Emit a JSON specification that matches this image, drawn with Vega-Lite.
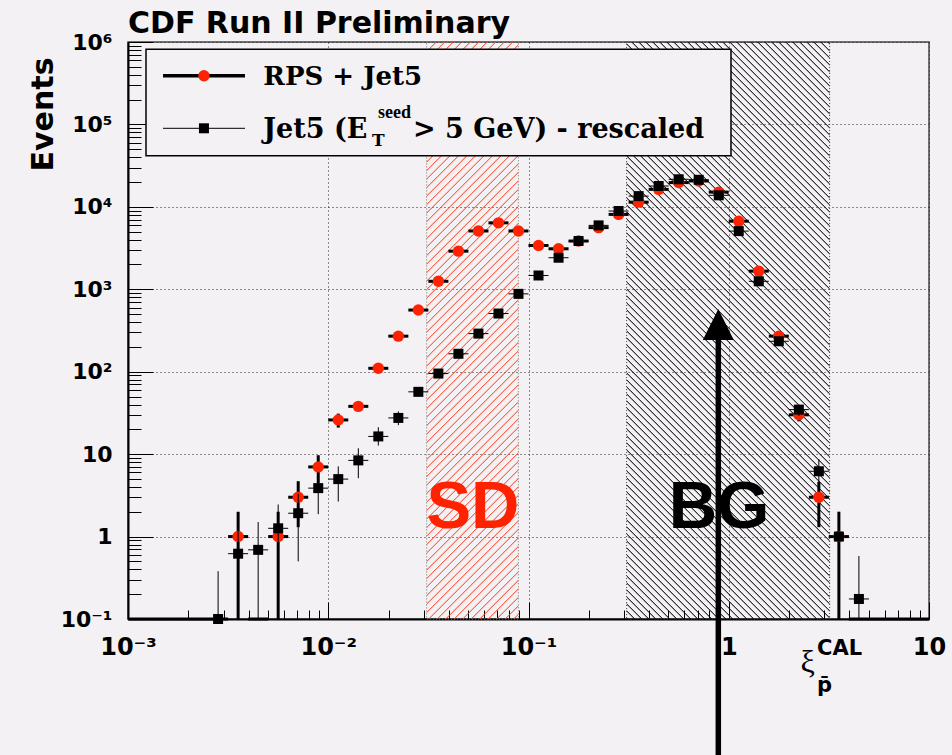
{
"$schema":"https://vega.github.io/schema/vega-lite/v6.json",
"width":801,"height":577,
"autosize":"none",
"padding":{"left":128,"top":42,"right":23,"bottom":136},
"background":"#f3f1f4",
"config":{"view":{"stroke":"#444","strokeWidth":1.5}},
"datasets":{"hist":[
{"s":"R","x":0.001122,"lo":0.001,"hi":0.001259,"y":0},
{"s":"R","x":0.001413,"lo":0.001259,"hi":0.001585,"y":0},
{"s":"R","x":0.001778,"lo":0.001585,"hi":0.001995,"y":0},
{"s":"R","x":0.002239,"lo":0.001995,"hi":0.002512,"y":0},
{"s":"R","x":0.002818,"lo":0.002512,"hi":0.003162,"y":0},
{"s":"R","x":0.003548,"lo":0.003162,"hi":0.003981,"y":1,"ylo":0.1,"yhi":2.0},
{"s":"R","x":0.004467,"lo":0.003981,"hi":0.005012,"y":0},
{"s":"R","x":0.005623,"lo":0.005012,"hi":0.00631,"y":1,"ylo":0.1,"yhi":2.0},
{"s":"R","x":0.007079,"lo":0.00631,"hi":0.007943,"y":3,"ylo":1.3,"yhi":4.7},
{"s":"R","x":0.008913,"lo":0.007943,"hi":0.01,"y":7,"ylo":4.4,"yhi":9.7},
{"s":"R","x":0.01122,"lo":0.01,"hi":0.01259,"y":26,"ylo":21,"yhi":31},
{"s":"R","x":0.01413,"lo":0.01259,"hi":0.01585,"y":38},
{"s":"R","x":0.01778,"lo":0.01585,"hi":0.01995,"y":110},
{"s":"R","x":0.02239,"lo":0.01995,"hi":0.02512,"y":270},
{"s":"R","x":0.02818,"lo":0.02512,"hi":0.03162,"y":560},
{"s":"R","x":0.03548,"lo":0.03162,"hi":0.03981,"y":1250},
{"s":"R","x":0.04467,"lo":0.03981,"hi":0.05012,"y":2900},
{"s":"R","x":0.05623,"lo":0.05012,"hi":0.0631,"y":5100},
{"s":"R","x":0.07079,"lo":0.0631,"hi":0.07943,"y":6400},
{"s":"R","x":0.08913,"lo":0.07943,"hi":0.1,"y":5100},
{"s":"R","x":0.1122,"lo":0.1,"hi":0.1259,"y":3400},
{"s":"R","x":0.1413,"lo":0.1259,"hi":0.1585,"y":3100},
{"s":"R","x":0.1778,"lo":0.1585,"hi":0.1995,"y":3850},
{"s":"R","x":0.2239,"lo":0.1995,"hi":0.2512,"y":5600},
{"s":"R","x":0.2818,"lo":0.2512,"hi":0.3162,"y":8100},
{"s":"R","x":0.3548,"lo":0.3162,"hi":0.3981,"y":11400},
{"s":"R","x":0.4467,"lo":0.3981,"hi":0.5012,"y":16300},
{"s":"R","x":0.5623,"lo":0.5012,"hi":0.631,"y":19700},
{"s":"R","x":0.7079,"lo":0.631,"hi":0.7943,"y":20600},
{"s":"R","x":0.8913,"lo":0.7943,"hi":1,"y":15100},
{"s":"R","x":1.122,"lo":1,"hi":1.259,"y":6700},
{"s":"R","x":1.413,"lo":1.259,"hi":1.585,"y":1660},
{"s":"R","x":1.778,"lo":1.585,"hi":1.995,"y":270},
{"s":"R","x":2.239,"lo":1.995,"hi":2.512,"y":30,"ylo":25,"yhi":35.5},
{"s":"R","x":2.818,"lo":2.512,"hi":3.162,"y":3,"ylo":1.3,"yhi":4.6},
{"s":"R","x":3.548,"lo":3.162,"hi":3.981,"y":1,"ylo":0.1,"yhi":2.0},
{"s":"R","x":4.467,"lo":3.981,"hi":5.012,"y":0},
{"s":"R","x":5.623,"lo":5.012,"hi":6.31,"y":0},
{"s":"R","x":7.079,"lo":6.31,"hi":7.943,"y":0},
{"s":"R","x":8.913,"lo":7.943,"hi":10,"y":0},
{"s":"B","x":0.001122,"lo":0.001,"hi":0.001259,"y":0},
{"s":"B","x":0.001413,"lo":0.001259,"hi":0.001585,"y":0},
{"s":"B","x":0.001778,"lo":0.001585,"hi":0.001995,"y":0},
{"s":"B","x":0.002239,"lo":0.001995,"hi":0.002512,"y":0},
{"s":"B","x":0.002818,"lo":0.002512,"hi":0.003162,"y":0.1,"ylo":0.1,"yhi":0.38},
{"s":"B","x":0.003548,"lo":0.003162,"hi":0.003981,"y":0.62,"ylo":0.1,"yhi":1.25},
{"s":"B","x":0.004467,"lo":0.003981,"hi":0.005012,"y":0.69,"ylo":0.1,"yhi":1.5},
{"s":"B","x":0.005623,"lo":0.005012,"hi":0.00631,"y":1.26,"ylo":0.1,"yhi":2.45},
{"s":"B","x":0.007079,"lo":0.00631,"hi":0.007943,"y":1.92,"ylo":0.5,"yhi":3.3},
{"s":"B","x":0.008913,"lo":0.007943,"hi":0.01,"y":3.87,"ylo":1.87,"yhi":5.8},
{"s":"B","x":0.01122,"lo":0.01,"hi":0.01259,"y":4.98,"ylo":2.66,"yhi":7.1},
{"s":"B","x":0.01413,"lo":0.01259,"hi":0.01585,"y":8.4,"ylo":5.1,"yhi":11.8},
{"s":"B","x":0.01778,"lo":0.01585,"hi":0.01995,"y":16.4,"ylo":12.7,"yhi":21.2},
{"s":"B","x":0.02239,"lo":0.01995,"hi":0.02512,"y":27.5,"ylo":22.5,"yhi":33},
{"s":"B","x":0.02818,"lo":0.02512,"hi":0.03162,"y":57,"ylo":50,"yhi":64},
{"s":"B","x":0.03548,"lo":0.03162,"hi":0.03981,"y":95},
{"s":"B","x":0.04467,"lo":0.03981,"hi":0.05012,"y":165},
{"s":"B","x":0.05623,"lo":0.05012,"hi":0.0631,"y":290},
{"s":"B","x":0.07079,"lo":0.0631,"hi":0.07943,"y":508},
{"s":"B","x":0.08913,"lo":0.07943,"hi":0.1,"y":880},
{"s":"B","x":0.1122,"lo":0.1,"hi":0.1259,"y":1470},
{"s":"B","x":0.1413,"lo":0.1259,"hi":0.1585,"y":2415},
{"s":"B","x":0.1778,"lo":0.1585,"hi":0.1995,"y":3850},
{"s":"B","x":0.2239,"lo":0.1995,"hi":0.2512,"y":5960},
{"s":"B","x":0.2818,"lo":0.2512,"hi":0.3162,"y":8900},
{"s":"B","x":0.3548,"lo":0.3162,"hi":0.3981,"y":13500},
{"s":"B","x":0.4467,"lo":0.3981,"hi":0.5012,"y":17900},
{"s":"B","x":0.5623,"lo":0.5012,"hi":0.631,"y":21600},
{"s":"B","x":0.7079,"lo":0.631,"hi":0.7943,"y":21300},
{"s":"B","x":0.8913,"lo":0.7943,"hi":1,"y":13800},
{"s":"B","x":1.122,"lo":1,"hi":1.259,"y":5080},
{"s":"B","x":1.413,"lo":1.259,"hi":1.585,"y":1250},
{"s":"B","x":1.778,"lo":1.585,"hi":1.995,"y":234},
{"s":"B","x":2.239,"lo":1.995,"hi":2.512,"y":34.7,"ylo":29,"yhi":40},
{"s":"B","x":2.818,"lo":2.512,"hi":3.162,"y":6.2,"ylo":3.8,"yhi":8.7},
{"s":"B","x":3.548,"lo":3.162,"hi":3.981,"y":1,"ylo":0.1,"yhi":2.0},
{"s":"B","x":4.467,"lo":3.981,"hi":5.012,"y":0.175,"ylo":0.1,"yhi":0.58},
{"s":"B","x":5.623,"lo":5.012,"hi":6.31,"y":0},
{"s":"B","x":7.079,"lo":6.31,"hi":7.943,"y":0},
{"s":"B","x":8.913,"lo":7.943,"hi":10,"y":0}
]},
"data":{"name":"hist"},
"layer":[
{"data":{"values":[{}]},"mark":{"type":"rect","stroke":"#777","strokeWidth":1,"strokeDash":[1,2],"fill":{"gradient":"linear","x1":0,"y1":0,"x2":0.2284,"y2":1.4368,"stops":[
{"offset":0,"color":"#f420"},{"offset":0.0013,"color":"#f42"},{"offset":0.0026,"color":"#f420"},
{"offset":0.01,"color":"#f420"},{"offset":0.0113,"color":"#f42"},{"offset":0.0126,"color":"#f420"},
{"offset":0.02,"color":"#f420"},{"offset":0.0213,"color":"#f42"},{"offset":0.0226,"color":"#f420"},
{"offset":0.03,"color":"#f420"},{"offset":0.0313,"color":"#f42"},{"offset":0.0326,"color":"#f420"},
{"offset":0.04,"color":"#f420"},{"offset":0.0413,"color":"#f42"},{"offset":0.0426,"color":"#f420"},
{"offset":0.05,"color":"#f420"},{"offset":0.0513,"color":"#f42"},{"offset":0.0526,"color":"#f420"},
{"offset":0.06,"color":"#f420"},{"offset":0.0613,"color":"#f42"},{"offset":0.0626,"color":"#f420"},
{"offset":0.07,"color":"#f420"},{"offset":0.0713,"color":"#f42"},{"offset":0.0726,"color":"#f420"},
{"offset":0.08,"color":"#f420"},{"offset":0.0813,"color":"#f42"},{"offset":0.0826,"color":"#f420"},
{"offset":0.09,"color":"#f420"},{"offset":0.0913,"color":"#f42"},{"offset":0.0926,"color":"#f420"},
{"offset":0.1,"color":"#f420"},{"offset":0.1013,"color":"#f42"},{"offset":0.1026,"color":"#f420"},
{"offset":0.11,"color":"#f420"},{"offset":0.1113,"color":"#f42"},{"offset":0.1126,"color":"#f420"},
{"offset":0.12,"color":"#f420"},{"offset":0.1213,"color":"#f42"},{"offset":0.1226,"color":"#f420"},
{"offset":0.13,"color":"#f420"},{"offset":0.1313,"color":"#f42"},{"offset":0.1326,"color":"#f420"},
{"offset":0.14,"color":"#f420"},{"offset":0.1413,"color":"#f42"},{"offset":0.1426,"color":"#f420"},
{"offset":0.15,"color":"#f420"},{"offset":0.1513,"color":"#f42"},{"offset":0.1526,"color":"#f420"},
{"offset":0.16,"color":"#f420"},{"offset":0.1613,"color":"#f42"},{"offset":0.1626,"color":"#f420"},
{"offset":0.17,"color":"#f420"},{"offset":0.1713,"color":"#f42"},{"offset":0.1726,"color":"#f420"},
{"offset":0.18,"color":"#f420"},{"offset":0.1813,"color":"#f42"},{"offset":0.1826,"color":"#f420"},
{"offset":0.19,"color":"#f420"},{"offset":0.1913,"color":"#f42"},{"offset":0.1926,"color":"#f420"},
{"offset":0.2,"color":"#f420"},{"offset":0.2013,"color":"#f42"},{"offset":0.2026,"color":"#f420"},
{"offset":0.21,"color":"#f420"},{"offset":0.2113,"color":"#f42"},{"offset":0.2126,"color":"#f420"},
{"offset":0.22,"color":"#f420"},{"offset":0.2213,"color":"#f42"},{"offset":0.2226,"color":"#f420"},
{"offset":0.23,"color":"#f420"},{"offset":0.2313,"color":"#f42"},{"offset":0.2326,"color":"#f420"},
{"offset":0.24,"color":"#f420"},{"offset":0.2413,"color":"#f42"},{"offset":0.2426,"color":"#f420"},
{"offset":0.25,"color":"#f420"},{"offset":0.2513,"color":"#f42"},{"offset":0.2526,"color":"#f420"},
{"offset":0.26,"color":"#f420"},{"offset":0.2613,"color":"#f42"},{"offset":0.2626,"color":"#f420"},
{"offset":0.27,"color":"#f420"},{"offset":0.2713,"color":"#f42"},{"offset":0.2726,"color":"#f420"},
{"offset":0.28,"color":"#f420"},{"offset":0.2813,"color":"#f42"},{"offset":0.2826,"color":"#f420"},
{"offset":0.29,"color":"#f420"},{"offset":0.2913,"color":"#f42"},{"offset":0.2926,"color":"#f420"},
{"offset":0.3,"color":"#f420"},{"offset":0.3013,"color":"#f42"},{"offset":0.3026,"color":"#f420"},
{"offset":0.31,"color":"#f420"},{"offset":0.3113,"color":"#f42"},{"offset":0.3126,"color":"#f420"},
{"offset":0.32,"color":"#f420"},{"offset":0.3213,"color":"#f42"},{"offset":0.3226,"color":"#f420"},
{"offset":0.33,"color":"#f420"},{"offset":0.3313,"color":"#f42"},{"offset":0.3326,"color":"#f420"},
{"offset":0.34,"color":"#f420"},{"offset":0.3413,"color":"#f42"},{"offset":0.3426,"color":"#f420"},
{"offset":0.35,"color":"#f420"},{"offset":0.3513,"color":"#f42"},{"offset":0.3526,"color":"#f420"},
{"offset":0.36,"color":"#f420"},{"offset":0.3613,"color":"#f42"},{"offset":0.3626,"color":"#f420"},
{"offset":0.37,"color":"#f420"},{"offset":0.3713,"color":"#f42"},{"offset":0.3726,"color":"#f420"},
{"offset":0.38,"color":"#f420"},{"offset":0.3813,"color":"#f42"},{"offset":0.3826,"color":"#f420"},
{"offset":0.39,"color":"#f420"},{"offset":0.3913,"color":"#f42"},{"offset":0.3926,"color":"#f420"},
{"offset":0.4,"color":"#f420"},{"offset":0.4013,"color":"#f42"},{"offset":0.4026,"color":"#f420"},
{"offset":0.41,"color":"#f420"},{"offset":0.4113,"color":"#f42"},{"offset":0.4126,"color":"#f420"},
{"offset":0.42,"color":"#f420"},{"offset":0.4213,"color":"#f42"},{"offset":0.4226,"color":"#f420"},
{"offset":0.43,"color":"#f420"},{"offset":0.4313,"color":"#f42"},{"offset":0.4326,"color":"#f420"},
{"offset":0.44,"color":"#f420"},{"offset":0.4413,"color":"#f42"},{"offset":0.4426,"color":"#f420"},
{"offset":0.45,"color":"#f420"},{"offset":0.4513,"color":"#f42"},{"offset":0.4526,"color":"#f420"},
{"offset":0.46,"color":"#f420"},{"offset":0.4613,"color":"#f42"},{"offset":0.4626,"color":"#f420"},
{"offset":0.47,"color":"#f420"},{"offset":0.4713,"color":"#f42"},{"offset":0.4726,"color":"#f420"},
{"offset":0.48,"color":"#f420"},{"offset":0.4813,"color":"#f42"},{"offset":0.4826,"color":"#f420"},
{"offset":0.49,"color":"#f420"},{"offset":0.4913,"color":"#f42"},{"offset":0.4926,"color":"#f420"},
{"offset":0.5,"color":"#f420"},{"offset":0.5013,"color":"#f42"},{"offset":0.5026,"color":"#f420"},
{"offset":0.51,"color":"#f420"},{"offset":0.5113,"color":"#f42"},{"offset":0.5126,"color":"#f420"},
{"offset":0.52,"color":"#f420"},{"offset":0.5213,"color":"#f42"},{"offset":0.5226,"color":"#f420"},
{"offset":0.53,"color":"#f420"},{"offset":0.5313,"color":"#f42"},{"offset":0.5326,"color":"#f420"},
{"offset":0.54,"color":"#f420"},{"offset":0.5413,"color":"#f42"},{"offset":0.5426,"color":"#f420"},
{"offset":0.55,"color":"#f420"},{"offset":0.5513,"color":"#f42"},{"offset":0.5526,"color":"#f420"},
{"offset":0.56,"color":"#f420"},{"offset":0.5613,"color":"#f42"},{"offset":0.5626,"color":"#f420"},
{"offset":0.57,"color":"#f420"},{"offset":0.5713,"color":"#f42"},{"offset":0.5726,"color":"#f420"},
{"offset":0.58,"color":"#f420"},{"offset":0.5813,"color":"#f42"},{"offset":0.5826,"color":"#f420"},
{"offset":0.59,"color":"#f420"},{"offset":0.5913,"color":"#f42"},{"offset":0.5926,"color":"#f420"},
{"offset":0.6,"color":"#f420"},{"offset":0.6013,"color":"#f42"},{"offset":0.6026,"color":"#f420"},
{"offset":0.61,"color":"#f420"},{"offset":0.6113,"color":"#f42"},{"offset":0.6126,"color":"#f420"},
{"offset":0.62,"color":"#f420"},{"offset":0.6213,"color":"#f42"},{"offset":0.6226,"color":"#f420"},
{"offset":0.63,"color":"#f420"},{"offset":0.6313,"color":"#f42"},{"offset":0.6326,"color":"#f420"},
{"offset":0.64,"color":"#f420"},{"offset":0.6413,"color":"#f42"},{"offset":0.6426,"color":"#f420"},
{"offset":0.65,"color":"#f420"},{"offset":0.6513,"color":"#f42"},{"offset":0.6526,"color":"#f420"},
{"offset":0.66,"color":"#f420"},{"offset":0.6613,"color":"#f42"},{"offset":0.6626,"color":"#f420"},
{"offset":0.67,"color":"#f420"},{"offset":0.6713,"color":"#f42"},{"offset":0.6726,"color":"#f420"},
{"offset":0.68,"color":"#f420"},{"offset":0.6813,"color":"#f42"},{"offset":0.6826,"color":"#f420"},
{"offset":0.69,"color":"#f420"},{"offset":0.6913,"color":"#f42"},{"offset":0.6926,"color":"#f420"},
{"offset":0.7,"color":"#f420"},{"offset":0.7013,"color":"#f42"},{"offset":0.7026,"color":"#f420"},
{"offset":0.71,"color":"#f420"},{"offset":0.7113,"color":"#f42"},{"offset":0.7126,"color":"#f420"},
{"offset":0.72,"color":"#f420"},{"offset":0.7213,"color":"#f42"},{"offset":0.7226,"color":"#f420"},
{"offset":0.73,"color":"#f420"},{"offset":0.7313,"color":"#f42"},{"offset":0.7326,"color":"#f420"},
{"offset":0.74,"color":"#f420"},{"offset":0.7413,"color":"#f42"},{"offset":0.7426,"color":"#f420"},
{"offset":0.75,"color":"#f420"},{"offset":0.7513,"color":"#f42"},{"offset":0.7526,"color":"#f420"},
{"offset":0.76,"color":"#f420"},{"offset":0.7613,"color":"#f42"},{"offset":0.7626,"color":"#f420"},
{"offset":0.77,"color":"#f420"},{"offset":0.7713,"color":"#f42"},{"offset":0.7726,"color":"#f420"},
{"offset":0.78,"color":"#f420"},{"offset":0.7813,"color":"#f42"},{"offset":0.7826,"color":"#f420"}
]}},"encoding":{"x":{"datum":0.031},"x2":{"datum":0.089},"y":{"datum":0.1},"y2":{"datum":1000000}}},
{"data":{"values":[{}]},"mark":{"type":"rect","stroke":"#444","strokeWidth":1,"strokeDash":[1,2],"fill":{"gradient":"linear","x1":0,"y1":1,"x2":0.4748,"y2":-0.3494,"stops":[
{"offset":0,"color":"#0000"},{"offset":0.0013,"color":"#000"},{"offset":0.0026,"color":"#0000"},
{"offset":0.008,"color":"#0000"},{"offset":0.0093,"color":"#000"},{"offset":0.0106,"color":"#0000"},
{"offset":0.016,"color":"#0000"},{"offset":0.0173,"color":"#000"},{"offset":0.0186,"color":"#0000"},
{"offset":0.024,"color":"#0000"},{"offset":0.0253,"color":"#000"},{"offset":0.0266,"color":"#0000"},
{"offset":0.032,"color":"#0000"},{"offset":0.0333,"color":"#000"},{"offset":0.0346,"color":"#0000"},
{"offset":0.04,"color":"#0000"},{"offset":0.0413,"color":"#000"},{"offset":0.0426,"color":"#0000"},
{"offset":0.048,"color":"#0000"},{"offset":0.0493,"color":"#000"},{"offset":0.0506,"color":"#0000"},
{"offset":0.056,"color":"#0000"},{"offset":0.0573,"color":"#000"},{"offset":0.0586,"color":"#0000"},
{"offset":0.064,"color":"#0000"},{"offset":0.0653,"color":"#000"},{"offset":0.0666,"color":"#0000"},
{"offset":0.072,"color":"#0000"},{"offset":0.0733,"color":"#000"},{"offset":0.0746,"color":"#0000"},
{"offset":0.08,"color":"#0000"},{"offset":0.0813,"color":"#000"},{"offset":0.0826,"color":"#0000"},
{"offset":0.088,"color":"#0000"},{"offset":0.0893,"color":"#000"},{"offset":0.0906,"color":"#0000"},
{"offset":0.096,"color":"#0000"},{"offset":0.0973,"color":"#000"},{"offset":0.0986,"color":"#0000"},
{"offset":0.104,"color":"#0000"},{"offset":0.1053,"color":"#000"},{"offset":0.1066,"color":"#0000"},
{"offset":0.112,"color":"#0000"},{"offset":0.1133,"color":"#000"},{"offset":0.1146,"color":"#0000"},
{"offset":0.12,"color":"#0000"},{"offset":0.1213,"color":"#000"},{"offset":0.1226,"color":"#0000"},
{"offset":0.128,"color":"#0000"},{"offset":0.1293,"color":"#000"},{"offset":0.1306,"color":"#0000"},
{"offset":0.136,"color":"#0000"},{"offset":0.1373,"color":"#000"},{"offset":0.1386,"color":"#0000"},
{"offset":0.144,"color":"#0000"},{"offset":0.1453,"color":"#000"},{"offset":0.1466,"color":"#0000"},
{"offset":0.152,"color":"#0000"},{"offset":0.1533,"color":"#000"},{"offset":0.1546,"color":"#0000"},
{"offset":0.16,"color":"#0000"},{"offset":0.1613,"color":"#000"},{"offset":0.1626,"color":"#0000"},
{"offset":0.168,"color":"#0000"},{"offset":0.1693,"color":"#000"},{"offset":0.1706,"color":"#0000"},
{"offset":0.176,"color":"#0000"},{"offset":0.1773,"color":"#000"},{"offset":0.1786,"color":"#0000"},
{"offset":0.184,"color":"#0000"},{"offset":0.1853,"color":"#000"},{"offset":0.1866,"color":"#0000"},
{"offset":0.192,"color":"#0000"},{"offset":0.1933,"color":"#000"},{"offset":0.1946,"color":"#0000"},
{"offset":0.2,"color":"#0000"},{"offset":0.2013,"color":"#000"},{"offset":0.2026,"color":"#0000"},
{"offset":0.208,"color":"#0000"},{"offset":0.2093,"color":"#000"},{"offset":0.2106,"color":"#0000"},
{"offset":0.216,"color":"#0000"},{"offset":0.2173,"color":"#000"},{"offset":0.2186,"color":"#0000"},
{"offset":0.224,"color":"#0000"},{"offset":0.2253,"color":"#000"},{"offset":0.2266,"color":"#0000"},
{"offset":0.232,"color":"#0000"},{"offset":0.2333,"color":"#000"},{"offset":0.2346,"color":"#0000"},
{"offset":0.24,"color":"#0000"},{"offset":0.2413,"color":"#000"},{"offset":0.2426,"color":"#0000"},
{"offset":0.248,"color":"#0000"},{"offset":0.2493,"color":"#000"},{"offset":0.2506,"color":"#0000"},
{"offset":0.256,"color":"#0000"},{"offset":0.2573,"color":"#000"},{"offset":0.2586,"color":"#0000"},
{"offset":0.264,"color":"#0000"},{"offset":0.2653,"color":"#000"},{"offset":0.2666,"color":"#0000"},
{"offset":0.272,"color":"#0000"},{"offset":0.2733,"color":"#000"},{"offset":0.2746,"color":"#0000"},
{"offset":0.28,"color":"#0000"},{"offset":0.2813,"color":"#000"},{"offset":0.2826,"color":"#0000"},
{"offset":0.288,"color":"#0000"},{"offset":0.2893,"color":"#000"},{"offset":0.2906,"color":"#0000"},
{"offset":0.296,"color":"#0000"},{"offset":0.2973,"color":"#000"},{"offset":0.2986,"color":"#0000"},
{"offset":0.304,"color":"#0000"},{"offset":0.3053,"color":"#000"},{"offset":0.3066,"color":"#0000"},
{"offset":0.312,"color":"#0000"},{"offset":0.3133,"color":"#000"},{"offset":0.3146,"color":"#0000"},
{"offset":0.32,"color":"#0000"},{"offset":0.3213,"color":"#000"},{"offset":0.3226,"color":"#0000"},
{"offset":0.328,"color":"#0000"},{"offset":0.3293,"color":"#000"},{"offset":0.3306,"color":"#0000"},
{"offset":0.336,"color":"#0000"},{"offset":0.3373,"color":"#000"},{"offset":0.3386,"color":"#0000"},
{"offset":0.344,"color":"#0000"},{"offset":0.3453,"color":"#000"},{"offset":0.3466,"color":"#0000"},
{"offset":0.352,"color":"#0000"},{"offset":0.3533,"color":"#000"},{"offset":0.3546,"color":"#0000"},
{"offset":0.36,"color":"#0000"},{"offset":0.3613,"color":"#000"},{"offset":0.3626,"color":"#0000"},
{"offset":0.368,"color":"#0000"},{"offset":0.3693,"color":"#000"},{"offset":0.3706,"color":"#0000"},
{"offset":0.376,"color":"#0000"},{"offset":0.3773,"color":"#000"},{"offset":0.3786,"color":"#0000"},
{"offset":0.384,"color":"#0000"},{"offset":0.3853,"color":"#000"},{"offset":0.3866,"color":"#0000"},
{"offset":0.392,"color":"#0000"},{"offset":0.3933,"color":"#000"},{"offset":0.3946,"color":"#0000"},
{"offset":0.4,"color":"#0000"},{"offset":0.4013,"color":"#000"},{"offset":0.4026,"color":"#0000"},
{"offset":0.408,"color":"#0000"},{"offset":0.4093,"color":"#000"},{"offset":0.4106,"color":"#0000"},
{"offset":0.416,"color":"#0000"},{"offset":0.4173,"color":"#000"},{"offset":0.4186,"color":"#0000"},
{"offset":0.424,"color":"#0000"},{"offset":0.4253,"color":"#000"},{"offset":0.4266,"color":"#0000"},
{"offset":0.432,"color":"#0000"},{"offset":0.4333,"color":"#000"},{"offset":0.4346,"color":"#0000"},
{"offset":0.44,"color":"#0000"},{"offset":0.4413,"color":"#000"},{"offset":0.4426,"color":"#0000"},
{"offset":0.448,"color":"#0000"},{"offset":0.4493,"color":"#000"},{"offset":0.4506,"color":"#0000"},
{"offset":0.456,"color":"#0000"},{"offset":0.4573,"color":"#000"},{"offset":0.4586,"color":"#0000"},
{"offset":0.464,"color":"#0000"},{"offset":0.4653,"color":"#000"},{"offset":0.4666,"color":"#0000"},
{"offset":0.472,"color":"#0000"},{"offset":0.4733,"color":"#000"},{"offset":0.4746,"color":"#0000"},
{"offset":0.48,"color":"#0000"},{"offset":0.4813,"color":"#000"},{"offset":0.4826,"color":"#0000"},
{"offset":0.488,"color":"#0000"},{"offset":0.4893,"color":"#000"},{"offset":0.4906,"color":"#0000"},
{"offset":0.496,"color":"#0000"},{"offset":0.4973,"color":"#000"},{"offset":0.4986,"color":"#0000"},
{"offset":0.504,"color":"#0000"},{"offset":0.5053,"color":"#000"},{"offset":0.5066,"color":"#0000"},
{"offset":0.512,"color":"#0000"},{"offset":0.5133,"color":"#000"},{"offset":0.5146,"color":"#0000"},
{"offset":0.52,"color":"#0000"},{"offset":0.5213,"color":"#000"},{"offset":0.5226,"color":"#0000"},
{"offset":0.528,"color":"#0000"},{"offset":0.5293,"color":"#000"},{"offset":0.5306,"color":"#0000"},
{"offset":0.536,"color":"#0000"},{"offset":0.5373,"color":"#000"},{"offset":0.5386,"color":"#0000"},
{"offset":0.544,"color":"#0000"},{"offset":0.5453,"color":"#000"},{"offset":0.5466,"color":"#0000"},
{"offset":0.552,"color":"#0000"},{"offset":0.5533,"color":"#000"},{"offset":0.5546,"color":"#0000"},
{"offset":0.56,"color":"#0000"},{"offset":0.5613,"color":"#000"},{"offset":0.5626,"color":"#0000"},
{"offset":0.568,"color":"#0000"},{"offset":0.5693,"color":"#000"},{"offset":0.5706,"color":"#0000"},
{"offset":0.576,"color":"#0000"},{"offset":0.5773,"color":"#000"},{"offset":0.5786,"color":"#0000"},
{"offset":0.584,"color":"#0000"},{"offset":0.5853,"color":"#000"},{"offset":0.5866,"color":"#0000"},
{"offset":0.592,"color":"#0000"},{"offset":0.5933,"color":"#000"},{"offset":0.5946,"color":"#0000"},
{"offset":0.6,"color":"#0000"},{"offset":0.6013,"color":"#000"},{"offset":0.6026,"color":"#0000"},
{"offset":0.608,"color":"#0000"},{"offset":0.6093,"color":"#000"},{"offset":0.6106,"color":"#0000"},
{"offset":0.616,"color":"#0000"},{"offset":0.6173,"color":"#000"},{"offset":0.6186,"color":"#0000"},
{"offset":0.624,"color":"#0000"},{"offset":0.6253,"color":"#000"},{"offset":0.6266,"color":"#0000"},
{"offset":0.632,"color":"#0000"},{"offset":0.6333,"color":"#000"},{"offset":0.6346,"color":"#0000"},
{"offset":0.64,"color":"#0000"},{"offset":0.6413,"color":"#000"},{"offset":0.6426,"color":"#0000"},
{"offset":0.648,"color":"#0000"},{"offset":0.6493,"color":"#000"},{"offset":0.6506,"color":"#0000"},
{"offset":0.656,"color":"#0000"},{"offset":0.6573,"color":"#000"},{"offset":0.6586,"color":"#0000"},
{"offset":0.664,"color":"#0000"},{"offset":0.6653,"color":"#000"},{"offset":0.6666,"color":"#0000"},
{"offset":0.672,"color":"#0000"},{"offset":0.6733,"color":"#000"},{"offset":0.6746,"color":"#0000"},
{"offset":0.68,"color":"#0000"},{"offset":0.6813,"color":"#000"},{"offset":0.6826,"color":"#0000"},
{"offset":0.688,"color":"#0000"},{"offset":0.6893,"color":"#000"},{"offset":0.6906,"color":"#0000"},
{"offset":0.696,"color":"#0000"},{"offset":0.6973,"color":"#000"},{"offset":0.6986,"color":"#0000"},
{"offset":0.704,"color":"#0000"},{"offset":0.7053,"color":"#000"},{"offset":0.7066,"color":"#0000"},
{"offset":0.712,"color":"#0000"},{"offset":0.7133,"color":"#000"},{"offset":0.7146,"color":"#0000"},
{"offset":0.72,"color":"#0000"},{"offset":0.7213,"color":"#000"},{"offset":0.7226,"color":"#0000"},
{"offset":0.728,"color":"#0000"},{"offset":0.7293,"color":"#000"},{"offset":0.7306,"color":"#0000"},
{"offset":0.736,"color":"#0000"},{"offset":0.7373,"color":"#000"},{"offset":0.7386,"color":"#0000"},
{"offset":0.744,"color":"#0000"},{"offset":0.7453,"color":"#000"},{"offset":0.7466,"color":"#0000"},
{"offset":0.752,"color":"#0000"},{"offset":0.7533,"color":"#000"},{"offset":0.7546,"color":"#0000"},
{"offset":0.76,"color":"#0000"},{"offset":0.7613,"color":"#000"},{"offset":0.7626,"color":"#0000"},
{"offset":0.768,"color":"#0000"},{"offset":0.7693,"color":"#000"},{"offset":0.7706,"color":"#0000"},
{"offset":0.776,"color":"#0000"},{"offset":0.7773,"color":"#000"},{"offset":0.7786,"color":"#0000"},
{"offset":0.784,"color":"#0000"},{"offset":0.7853,"color":"#000"},{"offset":0.7866,"color":"#0000"},
{"offset":0.792,"color":"#0000"},{"offset":0.7933,"color":"#000"},{"offset":0.7946,"color":"#0000"},
{"offset":0.8,"color":"#0000"},{"offset":0.8013,"color":"#000"},{"offset":0.8026,"color":"#0000"},
{"offset":0.808,"color":"#0000"},{"offset":0.8093,"color":"#000"},{"offset":0.8106,"color":"#0000"},
{"offset":0.816,"color":"#0000"},{"offset":0.8173,"color":"#000"},{"offset":0.8186,"color":"#0000"},
{"offset":0.824,"color":"#0000"},{"offset":0.8253,"color":"#000"},{"offset":0.8266,"color":"#0000"},
{"offset":0.832,"color":"#0000"},{"offset":0.8333,"color":"#000"},{"offset":0.8346,"color":"#0000"},
{"offset":0.84,"color":"#0000"},{"offset":0.8413,"color":"#000"},{"offset":0.8426,"color":"#0000"},
{"offset":0.848,"color":"#0000"},{"offset":0.8493,"color":"#000"},{"offset":0.8506,"color":"#0000"},
{"offset":0.856,"color":"#0000"},{"offset":0.8573,"color":"#000"},{"offset":0.8586,"color":"#0000"},
{"offset":0.864,"color":"#0000"},{"offset":0.8653,"color":"#000"},{"offset":0.8666,"color":"#0000"},
{"offset":0.872,"color":"#0000"},{"offset":0.8733,"color":"#000"},{"offset":0.8746,"color":"#0000"},
{"offset":0.88,"color":"#0000"},{"offset":0.8813,"color":"#000"},{"offset":0.8826,"color":"#0000"},
{"offset":0.888,"color":"#0000"},{"offset":0.8893,"color":"#000"},{"offset":0.8906,"color":"#0000"}
]}},"encoding":{"x":{"datum":0.309},"x2":{"datum":3.19},"y":{"datum":0.1},"y2":{"datum":1000000}}},
{"transform":[{"filter":"datum.s=='R' && datum.y==0"}],"mark":{"type":"rule","color":"black","strokeWidth":3},"encoding":{"x":{"field":"lo","type":"quantitative","title":null},"x2":{"field":"hi"},"y":{"datum":0.1}}},
{"transform":[{"filter":"datum.s=='R' && datum.y>0"}],"mark":{"type":"rule","color":"black","strokeWidth":3},"encoding":{"x":{"field":"lo","type":"quantitative","title":null},"x2":{"field":"hi"},"y":{"field":"y","type":"quantitative","title":"Events"}}},
{"transform":[{"filter":"datum.s=='R' && isValid(datum.ylo)"}],"mark":{"type":"rule","color":"black","strokeWidth":3},"encoding":{"x":{"field":"x","type":"quantitative","title":null},"y":{"field":"ylo","type":"quantitative","title":"Events"},"y2":{"field":"yhi"}}},
{"transform":[{"filter":"datum.s=='R' && datum.y>0"}],"mark":{"type":"point","shape":"circle","filled":true,"size":130,"color":"#ff2200","opacity":1},
"encoding":{
"x":{"field":"x","type":"quantitative","title":null,"scale":{"type":"log","domain":[0.001,10],"nice":false},
"axis":{"title":null,"values":[0.001,0.002,0.003,0.004,0.005,0.006,0.007,0.008,0.009,0.01,0.02,0.03,0.04,0.05,0.06,0.07,0.08,0.09,0.1,0.2,0.3,0.4,0.5,0.6,0.7,0.8,0.9,1,2,3,4,5,6,7,8,9,10],
"labelExpr":"datum.value==0.001?'10⁻³':datum.value==0.01?'10⁻²':datum.value==0.1?'10⁻¹':datum.value==1?'1':datum.value==10?'10':''",
"grid":true,"gridDash":[1,3],"gridColor":"#222","gridWidth":1,
"gridOpacity":{"condition":{"test":"abs(log(datum.value)/LN10-round(log(datum.value)/LN10))<0.001","value":1},"value":0},
"tickSize":{"condition":{"test":"abs(log(datum.value)/LN10-round(log(datum.value)/LN10))<0.001","value":-17},"value":-9},
"tickColor":"black","tickWidth":1,"domainColor":"black","domainWidth":2,
"labelFont":"DejaVu Sans","labelFontWeight":"bold","labelFontSize":24,"labelColor":"black","labelPadding":33,"labelFlush":false,"labelOverlap":false,"labelBound":false}},
"y":{"field":"y","type":"quantitative","title":"Events","scale":{"type":"log","domain":[0.1,1000000],"nice":false},
"axis":{"title":"Events","values":[0.1,0.2,0.3,0.4,0.5,0.6,0.7,0.8,0.9,1,2,3,4,5,6,7,8,9,10,20,30,40,50,60,70,80,90,100,200,300,400,500,600,700,800,900,1000,2000,3000,4000,5000,6000,7000,8000,9000,10000,20000,30000,40000,50000,60000,70000,80000,90000,100000,200000,300000,400000,500000,600000,700000,800000,900000,1000000],
"labelExpr":"datum.value==0.1?'10⁻¹':datum.value==1?'1':datum.value==10?'10':datum.value==100?'10²':datum.value==1000?'10³':datum.value==10000?'10⁴':datum.value==100000?'10⁵':datum.value==1000000?'10⁶':''",
"grid":true,"gridDash":[1,3],"gridColor":"#222","gridWidth":1,
"gridOpacity":{"condition":{"test":"abs(log(datum.value)/LN10-round(log(datum.value)/LN10))<0.001","value":1},"value":0},
"tickSize":{"condition":{"test":"abs(log(datum.value)/LN10-round(log(datum.value)/LN10))<0.001","value":-25},"value":-13},
"tickColor":"black","tickWidth":1,"domainColor":"black","domainWidth":2,
"labelFont":"DejaVu Sans","labelFontWeight":"bold","labelFontSize":22,"labelColor":"black","labelPadding":41,"labelFlush":false,"labelOverlap":false,"labelBound":false,
"titleFont":"DejaVu Sans","titleFontWeight":"bold","titleFontSize":30,"titleColor":"black","titleAnchor":"end","titleAlign":"right","titleBaseline":"alphabetic","titleAngle":-90,"titleX":-76,"titleY":15}}}},
{"transform":[{"filter":"datum.s=='B' && datum.y==0"}],"mark":{"type":"rule","color":"black","strokeWidth":1},"encoding":{"x":{"field":"lo","type":"quantitative","title":null},"x2":{"field":"hi"},"y":{"datum":0.1}}},
{"transform":[{"filter":"datum.s=='B' && datum.y>0"}],"mark":{"type":"rule","color":"black","strokeWidth":1},"encoding":{"x":{"field":"lo","type":"quantitative","title":null},"x2":{"field":"hi"},"y":{"field":"y","type":"quantitative","title":"Events"}}},
{"transform":[{"filter":"datum.s=='B' && isValid(datum.ylo)"}],"mark":{"type":"rule","color":"black","strokeWidth":1},"encoding":{"x":{"field":"x","type":"quantitative","title":null},"y":{"field":"ylo","type":"quantitative","title":"Events"},"y2":{"field":"yhi"}}},
{"transform":[{"filter":"datum.s=='B' && datum.y>0"}],"mark":{"type":"point","shape":"square","filled":true,"size":100,"color":"black","opacity":1},"encoding":{"x":{"field":"x","type":"quantitative","title":null},"y":{"field":"y","type":"quantitative","title":"Events"}}},
{"data":{"values":[{}]},"mark":{"type":"text","text":"SD","font":"Liberation Sans","fontWeight":"bold","fontSize":67,"color":"#ff2200","align":"center","baseline":"alphabetic"},"encoding":{"x":{"datum":0.0528},"y":{"datum":1.27}}},
{"data":{"values":[{}]},"mark":{"type":"text","text":"BG","font":"Liberation Sans","fontWeight":"bold","fontSize":67,"color":"black","align":"center","baseline":"alphabetic"},"encoding":{"x":{"datum":0.894},"y":{"datum":1.27}}},
{"data":{"values":[{}]},"mark":{"type":"rule","color":"black","strokeWidth":5.5},"encoding":{"x":{"datum":0.887},"y":{"datum":0.002},"y2":{"datum":374}}},
{"data":{"values":[{}]},"mark":{"type":"point","shape":"M0,-1L1,1L-1,1Z","filled":true,"size":961,"color":"black","opacity":1,"strokeWidth":0},"encoding":{"x":{"datum":0.887},"y":{"datum":374}}},
{"data":{"values":[{}]},"mark":{"type":"rect","fill":"#f3f1f4","stroke":"black","strokeWidth":1.5},"encoding":{"x":{"datum":0.00123},"x2":{"datum":1.026},"y":{"datum":41740},"y2":{"datum":815500}}},
{"data":{"values":[{}]},"mark":{"type":"rule","color":"black","strokeWidth":3.5},"encoding":{"x":{"datum":0.001496},"x2":{"datum":0.003839},"y":{"datum":390100}}},
{"data":{"values":[{}]},"mark":{"type":"point","shape":"circle","filled":true,"size":130,"color":"#ff2200","opacity":1},"encoding":{"x":{"datum":0.002395},"y":{"datum":390100}}},
{"data":{"values":[{}]},"mark":{"type":"rule","color":"black","strokeWidth":1},"encoding":{"x":{"datum":0.001496},"x2":{"datum":0.003839},"y":{"datum":89750}}},
{"data":{"values":[{}]},"mark":{"type":"point","shape":"square","filled":true,"size":100,"color":"black","opacity":1},"encoding":{"x":{"datum":0.002395},"y":{"datum":89750}}},
{"data":{"values":[{}]},"mark":{"type":"text","text":"RPS + Jet5","font":"DejaVu Serif","fontWeight":"bold","fontSize":26,"color":"black","align":"left","baseline":"alphabetic"},"encoding":{"x":{"datum":0.004739},"y":{"datum":300800}}},
{"data":{"values":[{}]},"mark":{"type":"text","text":"Jet5 (E","font":"DejaVu Serif","fontWeight":"bold","fontSize":27,"color":"black","align":"left","baseline":"alphabetic"},"encoding":{"x":{"datum":0.004739},"y":{"datum":67870}}},
{"data":{"values":[{}]},"mark":{"type":"text","text":"T","font":"DejaVu Serif","fontWeight":"bold","fontSize":17,"color":"black","align":"left","baseline":"alphabetic"},"encoding":{"x":{"datum":0.01654},"y":{"datum":54740}}},
{"data":{"values":[{}]},"mark":{"type":"text","text":"seed","font":"Liberation Serif","fontWeight":"bold","fontSize":18,"color":"black","align":"left","baseline":"alphabetic"},"encoding":{"x":{"datum":0.01772},"y":{"datum":119700}}},
{"data":{"values":[{}]},"mark":{"type":"text","text":"> 5 GeV) - rescaled","font":"DejaVu Serif","fontWeight":"bold","fontSize":27,"color":"black","align":"left","baseline":"alphabetic"},"encoding":{"x":{"datum":0.0265},"y":{"datum":67870}}},
{"data":{"values":[{}]},"mark":{"type":"text","text":"ξ","font":"Liberation Serif","fontSize":32,"color":"black","align":"center","baseline":"alphabetic"},"encoding":{"x":{"datum":2.474},"y":{"datum":0.02275}}},
{"data":{"values":[{}]},"mark":{"type":"text","text":"CAL","font":"DejaVu Sans","fontWeight":"bold","fontSize":21,"color":"black","align":"left","baseline":"alphabetic"},"encoding":{"x":{"datum":2.759},"y":{"datum":0.03659}}},
{"data":{"values":[{}]},"mark":{"type":"text","text":"p\u0304","font":"DejaVu Sans","fontWeight":"bold","fontSize":21,"color":"black","align":"left","baseline":"alphabetic"},"encoding":{"x":{"datum":2.759},"y":{"datum":0.01302}}},
{"data":{"values":[{}]},"mark":{"type":"text","text":"CDF Run II Preliminary","font":"DejaVu Sans","fontWeight":"bold","fontSize":30,"color":"black","align":"left","baseline":"alphabetic"},"encoding":{"x":{"datum":0.001},"y":{"datum":1285000}}}
]
}
